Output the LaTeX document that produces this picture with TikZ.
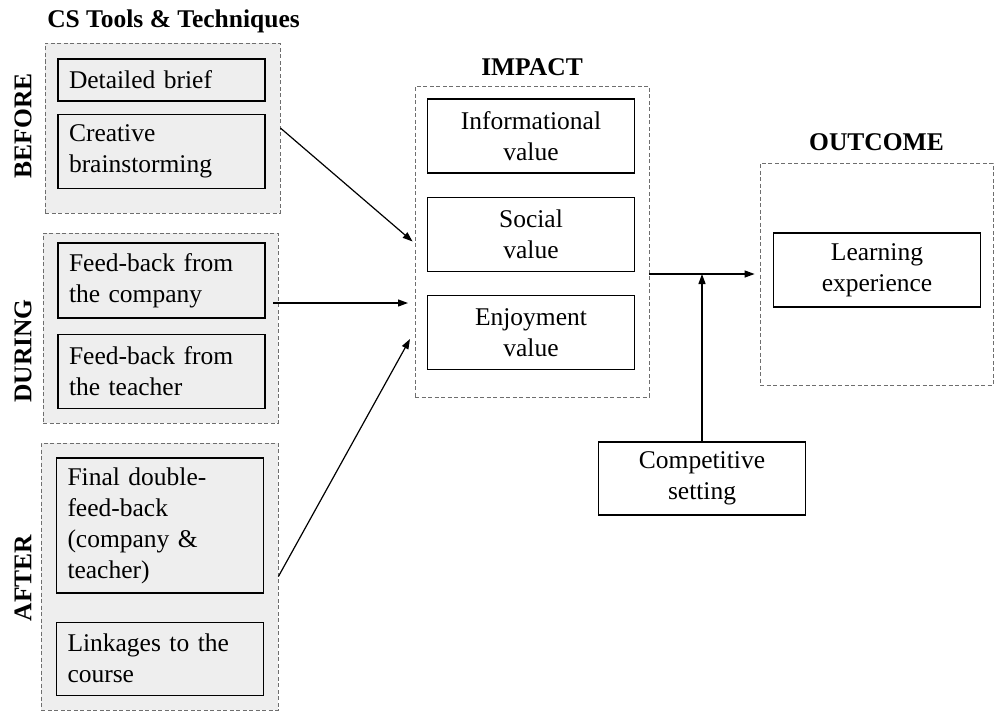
\documentclass[tikz,border=0pt]{standalone}
\usepackage{fontspec}
\setmainfont{Liberation Serif}
\usetikzlibrary{arrows.meta,positioning}
\definecolor{panelgray}{RGB}{238,238,238}
\definecolor{dashgray}{RGB}{110,110,110}

\begin{document}
\begin{tikzpicture}[
  x=1pt, y=1pt,
  font=\fontsize{25.5}{31}\selectfont,
  grp/.style={draw=dashgray, dashed, dash pattern=on 4pt off 2.5pt, line width=0.8pt},
  phase/.style={grp, fill=panelgray},
  lbox/.style={draw, line width=1.2pt, fill=panelgray, text width=185pt,
               inner xsep=11pt, align=left},
  cbox/.style={draw, line width=1.2pt, fill=white, minimum width=207pt,
               minimum height=74pt, align=center},
  ttl/.style={font=\fontsize{25.5}{31}\selectfont\bfseries},
  stage/.style={ttl, rotate=90},
  arr/.style={-{Triangle[length=10pt,width=7pt]}, line width=1.2pt}
]
\useasboundingbox (0,0) rectangle (995,-712);

% dashed frames
\node[phase, minimum width=235pt, minimum height=170pt] (before) at (162.5,-128) {};
\node[phase, minimum width=235pt, minimum height=190pt] (during) at (160.5,-328) {};
\node[phase, minimum width=237pt, minimum height=267pt] (after) at (159.5,-576.5) {};
\node[grp, minimum width=234pt, minimum height=311pt] (impact) at (532,-241.5) {};
\node[grp, minimum width=233pt, minimum height=222pt] (outcome) at (876.5,-274) {};

\node[ttl, above=6pt of before, xshift=11pt] (toolsttl) {CS Tools \& Techniques};
\node[ttl, above=6pt of impact] (impactttl) {IMPACT};
\node[ttl, above=8pt of outcome] (outcomettl) {OUTCOME};

\node[stage] (beforelbl) at (23,-126) {BEFORE};
\node[stage] (duringlbl) at (23,-351) {DURING};
\node[stage] (afterlbl) at (23,-578) {AFTER};

% tools and techniques
\node[lbox, minimum height=42pt] (brief) at (161.5,-80) {Detailed brief};
\node[lbox, minimum height=74pt, below=12pt of brief] (brainstorm) {Creative\\brainstorming};
\node[lbox, minimum height=75pt] (company) at (161.5,-280.5) {Feed-back from\\the company};
\node[lbox, minimum height=74pt, below=15pt of company] (teacher) {Feed-back from\\the teacher};
\node[lbox, minimum height=135pt] (final) at (160,-525.5) {Final double-\\feed-back\\(company \&\\teacher)};
\node[lbox, minimum height=73pt, below=28pt of final] (linkages) {Linkages to the\\course};

% impact and outcome
\node[cbox] (info) at (531,-136) {Informational\\value};
\node[cbox, below=23pt of info] (social) {Social\\value};
\node[cbox, below=23pt of social] (enjoy) {Enjoyment\\value};
\node[cbox] (learning) at (877,-270) {Learning\\experience};
\node[cbox, minimum height=73pt] (compet) at (702,-478.5) {Competitive\\setting};

\coordinate (duringout) at (273,-303);
\coordinate (duringin) at (408,-303);
\coordinate (afterin) at (410,-339);

\draw[arr] (before.east) -- ([xshift=-2pt]impact.west);
\draw[arr] (duringout) -- (duringin);
\draw[arr] (after.east) -- (afterin);
\draw[arr] (impact.east |- outcome.west) -- ([xshift=-5pt]outcome.west);
\draw[arr] (compet.north) -- (compet.north |- outcome.west);
\end{tikzpicture}
\end{document}
